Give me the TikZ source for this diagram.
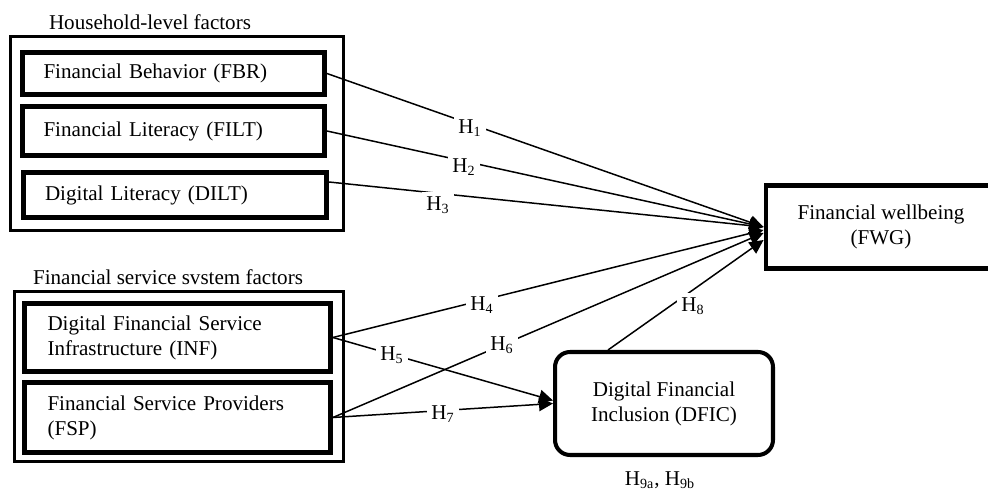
\documentclass[tikz,border=0pt]{standalone}
\usepackage{fontspec}
\setmainfont{Liberation Serif}
\usetikzlibrary{arrows.meta}
\tikzset{
  groupbox/.style={draw, line width=1.7pt, inner sep=0pt},
  factor/.style={draw, line width=2.8pt, text width=5.2cm, align=left, inner xsep=0.4cm},
  outcome/.style={draw, line width=2.8pt, align=center},
  mediator/.style={draw, line width=2.3pt, rounded corners=0.3cm, align=center},
  hyp/.style={fill=white, inner sep=2.5pt},
  path/.style={line width=0.85pt, -{Triangle[length=0.28cm,width=0.27cm]}}
}
\begin{document}
\begin{tikzpicture}[x=0.02cm, y=-0.02cm, font=\fontsize{12}{14.2}\selectfont]
  \useasboundingbox (0,0) rectangle (988,492);
  % groups
  \node[groupbox, minimum width=6.66cm, minimum height=3.88cm] (hh) at (177,133.5) {};
  \node (hhlabel) at (150,22) {Household-level factors};
  \node[groupbox, minimum width=6.58cm, minimum height=3.4cm] (fss) at (179,376.5) {};
  \node (fsslabel) at (168,277) {Financial service svstem factors};
  % factors
  \node[factor, minimum width=6.04cm, minimum height=0.84cm] (fbr) at (173.5,73.5) {Financial Behavior (FBR)};
  \node[factor, minimum width=6.04cm, minimum height=0.98cm] (filt) at (173.5,131) {Financial Literacy (FILT)};
  \node[factor, minimum width=6.06cm, minimum height=0.9cm] (dilt) at (175,195) {Digital Literacy (DILT)};
  \node[factor, minimum width=6.12cm, minimum height=1.36cm] (inf) at (177.5,337.5) {Digital Financial Service\\Infrastructure (INF)};
  \node[factor, minimum width=6.12cm, minimum height=1.4cm] (fsp) at (177.5,417.5) {Financial Service Providers\\(FSP)};
  % outcome and mediator
  \node[outcome, minimum width=4.6cm, minimum height=1.66cm] (fwg) at (881,227) {Financial wellbeing\\(FWG)};
  \node[mediator, minimum width=4.36cm, minimum height=2.06cm] (dfic) at (664,403.5) {Digital Financial\\Inclusion (DFIC)};
  \begin{scope}[path]
    \draw (fbr.east) to (fwg.west);
    \draw (filt.east) to (fwg.west);
    \draw ([yshift=0.26cm]dilt.east) to (fwg.west);
    \draw (inf.east) to ([yshift=-0.06cm]fwg.west);
    \draw (fsp.east) to ([yshift=-0.12cm]fwg.west);
    \draw ([xshift=-1.12cm]dfic.north) to ([yshift=-0.26cm]fwg.west);
    \draw (inf.east) to ([yshift=0.06cm]dfic.west);
    \draw (fsp.east) to (dfic.west);
  \end{scope}
  % hypotheses
  \node[hyp] (h1) at (470,128) {H\textsubscript{1}};
  \node[hyp] (h2) at (464,167) {H\textsubscript{2}};
  \node[hyp] (h3) at (438,205) {H\textsubscript{3}};
  \node[hyp] (h4) at (482,305) {H\textsubscript{4}};
  \node[hyp] (h5) at (392,355) {H\textsubscript{5}};
  \node[hyp] (h6) at (502,345) {H\textsubscript{6}};
  \node[hyp] (h7) at (443,414) {H\textsubscript{7}};
  \node[hyp] (h8) at (693,306) {H\textsubscript{8}};
  \node (h9) at (660,480) {H\textsubscript{9a}, H\textsubscript{9b}};
\end{tikzpicture}
\end{document}
